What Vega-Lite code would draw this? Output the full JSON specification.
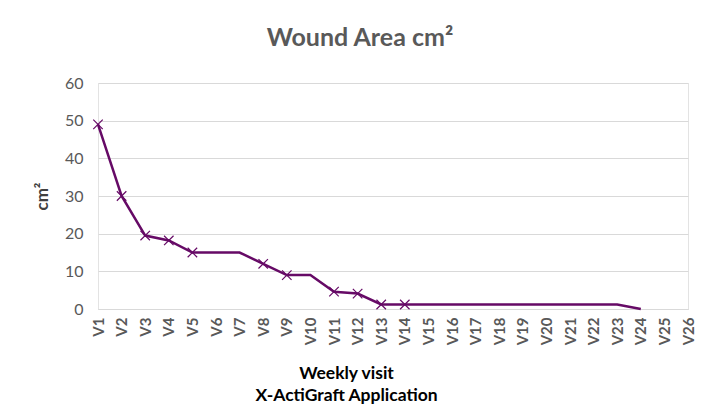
{
  "$schema": "https://vega.github.io/schema/vega-lite/v6.json",
  "width": 590,
  "height": 226,
  "autosize": {"type": "none"},
  "padding": {"left": 98, "top": 83, "right": 22, "bottom": 109},
  "background": "white",
  "title": {
    "text": "Wound Area cm²",
    "font": "Lato",
    "fontSize": 25,
    "fontWeight": "bold",
    "color": "#595959",
    "anchor": "middle",
    "dx": -33,
    "offset": 24
  },
  "config": {
    "view": {"stroke": "#e3e3e3", "strokeWidth": 1},
    "font": "Lato"
  },
  "data": {
    "values": [
      {"visit": "V1", "area": 49, "marked": true},
      {"visit": "V2", "area": 30, "marked": true},
      {"visit": "V3", "area": 19.5, "marked": true},
      {"visit": "V4", "area": 18.2, "marked": true},
      {"visit": "V5", "area": 15, "marked": true},
      {"visit": "V6", "area": 15, "marked": false},
      {"visit": "V7", "area": 15, "marked": false},
      {"visit": "V8", "area": 12, "marked": true},
      {"visit": "V9", "area": 9, "marked": true},
      {"visit": "V10", "area": 9, "marked": false},
      {"visit": "V11", "area": 4.6, "marked": true},
      {"visit": "V12", "area": 4.1, "marked": true},
      {"visit": "V13", "area": 1.2, "marked": true},
      {"visit": "V14", "area": 1.2, "marked": true},
      {"visit": "V15", "area": 1.2, "marked": false},
      {"visit": "V16", "area": 1.2, "marked": false},
      {"visit": "V17", "area": 1.2, "marked": false},
      {"visit": "V18", "area": 1.2, "marked": false},
      {"visit": "V19", "area": 1.2, "marked": false},
      {"visit": "V20", "area": 1.2, "marked": false},
      {"visit": "V21", "area": 1.2, "marked": false},
      {"visit": "V22", "area": 1.2, "marked": false},
      {"visit": "V23", "area": 1.2, "marked": false},
      {"visit": "V24", "area": 0, "marked": false}
    ]
  },
  "encoding": {
    "x": {
      "field": "visit",
      "type": "ordinal",
      "scale": {
        "type": "point",
        "padding": 0,
        "domain": ["V1","V2","V3","V4","V5","V6","V7","V8","V9","V10","V11","V12","V13","V14","V15","V16","V17","V18","V19","V20","V21","V22","V23","V24","V25","V26"]
      },
      "axis": {
        "title": ["Weekly visit", "X-ActiGraft Application"],
        "titleFont": "Lato",
        "titleFontSize": 17.5,
        "titleFontWeight": "bold",
        "titleColor": "#000000",
        "titleLineHeight": 22,
        "titleBaseline": "top",
        "titleAnchor": "start",
        "titleAlign": "center",
        "titleX": 248,
        "titleY": 55,
        "labelAngle": -90,
        "labelFont": "Lato",
        "labelFontSize": 15,
        "labelFontWeight": "bold",
        "labelColor": "#595959",
        "labelPadding": 8,
        "ticks": false,
        "domainColor": "#d9d9d9",
        "grid": false
      }
    },
    "y": {
      "field": "area",
      "type": "quantitative",
      "scale": {"domain": [0, 60], "nice": false},
      "axis": {
        "title": "cm²",
        "titleFont": "Lato",
        "titleFontSize": 17,
        "titleFontWeight": "bold",
        "titleColor": "#404040",
        "titlePadding": 13,
        "values": [0, 10, 20, 30, 40, 50, 60],
        "labelFont": "Lato",
        "labelFontSize": 16,
        "labelColor": "#595959",
        "labelPadding": 15,
        "ticks": false,
        "domain": false,
        "grid": true,
        "gridColor": "#d9d9d9",
        "gridWidth": 1
      }
    }
  },
  "layer": [
    {
      "mark": {"type": "line", "color": "#660a66", "strokeWidth": 2.5}
    },
    {
      "transform": [{"filter": "datum.marked"}],
      "mark": {
        "type": "point",
        "shape": "M-1,-1L1,1M1,-1L-1,1",
        "size": 90,
        "filled": false,
        "stroke": "#660a66",
        "strokeWidth": 1.2,
        "opacity": 1
      }
    }
  ]
}
